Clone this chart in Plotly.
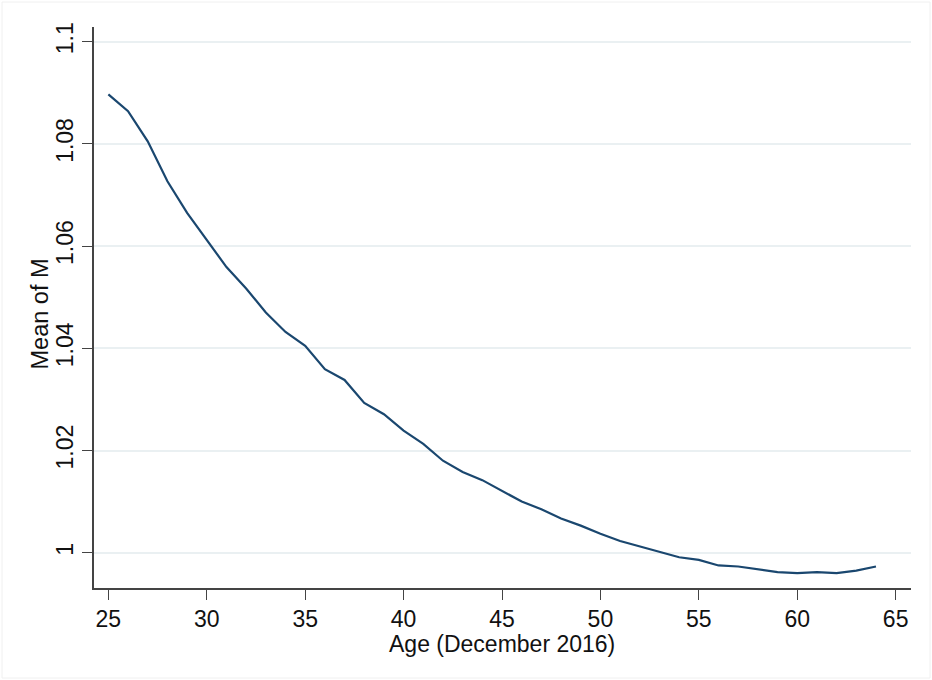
import plotly.graph_objects as go

ages = list(range(25, 65))
mean_m = [
    1.0897, 1.0864, 1.0805, 1.0727, 1.0665, 1.0613, 1.0559, 1.0517, 1.0470, 1.0432,
    1.0405, 1.0359, 1.0338, 1.0293, 1.0271, 1.0239, 1.0213, 1.0180, 1.0158, 1.0142,
    1.0121, 1.0100, 1.0085, 1.0067, 1.0053, 1.0037, 1.0023, 1.0012, 1.0001, 0.9991,
    0.9986, 0.9975, 0.9973, 0.9968, 0.9962, 0.9960, 0.9962, 0.9960, 0.9965, 0.9973,
]
x_ticks = [25, 30, 35, 40, 45, 50, 55, 60, 65]
y_ticks = [1.0, 1.02, 1.04, 1.06, 1.08, 1.1]
y_tick_labels = ["1", "1.02", "1.04", "1.06", "1.08", "1.1"]
x_title = "Age (December 2016)"
y_title = "Mean of M"

FONT = "Liberation Sans, Arial, sans-serif"

fig = go.Figure()
fig.add_trace(go.Scatter(
    x=ages, y=mean_m, mode="lines",
    line=dict(color="#1a476f", width=2.2),
    showlegend=False,
))

fig.update_layout(
    width=932, height=680,
    margin=dict(l=94, r=21, t=27, b=92),
    paper_bgcolor="white", plot_bgcolor="white",
    font=dict(family=FONT, size=23, color="#111111"),
    xaxis=dict(
        range=[24.27, 65.78],
        tickvals=x_ticks, ticktext=[str(v) for v in x_ticks],
        ticks="outside", ticklen=10, tickwidth=1.3, tickcolor="#444",
        showline=True, linecolor="#444", linewidth=1.5,
        showgrid=False, zeroline=False,
        tickfont=dict(size=23),
    ),
    yaxis=dict(
        range=[0.99309, 1.10288],
        tickvals=y_ticks, ticktext=y_tick_labels,
        tickangle=-90,
        ticks="outside", ticklen=10, tickwidth=1.3, tickcolor="#444",
        showline=True, linecolor="#444", linewidth=1.5,
        showgrid=True, gridcolor="#eaf0f2", gridwidth=1.5,
        zeroline=False,
        tickfont=dict(size=23),
    ),
    annotations=[
        dict(text=x_title, xref="paper", yref="paper",
             x=(502 - 94) / 817, y=-(644 - 588) / 561,
             xanchor="center", yanchor="middle", showarrow=False,
             font=dict(size=23)),
        dict(text=y_title, xref="paper", yref="paper",
             x=(39.5 - 94) / 817, y=(588 - 314) / 561,
             xanchor="center", yanchor="middle", showarrow=False,
             textangle=-90, font=dict(size=23.5)),
    ],
    shapes=[dict(
        type="rect", xref="paper", yref="paper",
        x0=(2 - 94) / 817, x1=(930 - 94) / 817,
        y0=-(678 - 588) / 561, y1=1 + (27 - 2) / 561,
        line=dict(color="#f0f0f0", width=1), layer="below",
    )],
)

fig.write_html("out.html")
